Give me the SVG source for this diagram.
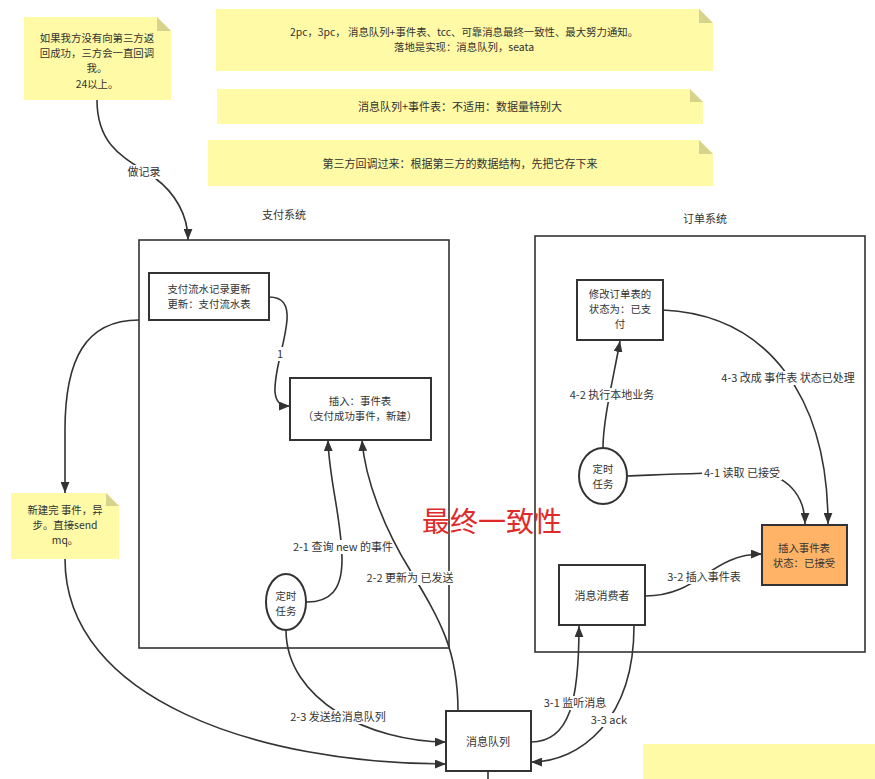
<svg xmlns="http://www.w3.org/2000/svg" width="875" height="779" viewBox="0 0 875 779">
<defs>
<marker id="arr" viewBox="0 0 10 8" refX="10" refY="4" markerWidth="11" markerHeight="9" markerUnits="userSpaceOnUse" orient="auto">
<path d="M0,0 L10,4 L0,8 Z" fill="#333"/>
</marker>
</defs>
<style>
text{font-family:"Noto Sans CJK SC","Liberation Sans",sans-serif;font-size:11px;fill:#333;text-anchor:middle}
.m{font-size:10.4px}
.note{fill:#FFFAA5}
.fold{fill:#D6D38C}
.box{fill:#fff;stroke:#333;stroke-width:2}
.frame{fill:none;stroke:#333;stroke-width:1.6}
.c{fill:none;stroke:#333;stroke-width:1.6}
.c2{fill:none;stroke:#333;stroke-width:1.6;marker-end:url(#arr)}
.lb{fill:#fff}
.red{fill:#E02A2A;font-size:28px}
</style>
<rect width="875" height="779" fill="#fff"/>

<g id="note-callback">
<path class="note" d="M24,17 H157 L171,31 V100 H24 Z"/>
<path class="fold" d="M157,17 L171,31 H157 Z"/>
<text class="m" x="97" y="42">如果我方没有向第三方返</text>
<text class="m" x="97" y="57.2">回成功，三方会一直回调</text>
<text class="m" x="97" y="72.4">我。</text>
<text class="m" x="97" y="87.6">24以上。</text>
</g>
<g id="note-methods">
<path class="note" d="M216,9 H699 L713,23 V71 H216 Z"/>
<path class="fold" d="M699,9 L713,23 H699 Z"/>
<text class="m" x="464" y="36">2pc，3pc， 消息队列+事件表、tcc、可靠消息最终一致性、最大努力通知。</text>
<text class="m" x="464" y="51.2">落地是实现：消息队列，seata</text>
</g>
<g id="note-mq">
<path class="note" d="M217,89 H690 L703,102 V124 H217 Z"/>
<path class="fold" d="M690,89 L703,102 H690 Z"/>
<text x="460" y="111">消息队列+事件表：不适用：数据量特别大</text>
</g>
<g id="note-third">
<path class="note" d="M208,140 H699 L713,154 V186 H208 Z"/>
<path class="fold" d="M699,140 L713,154 H699 Z"/>
<text x="460" y="168">第三方回调过来：根据第三方的数据结构，先把它存下来</text>
</g>

<g id="pay-system">
<text x="284" y="219">支付系统</text>
<rect class="frame" x="139" y="240" width="310" height="408"/>
</g>
<g id="order-system">
<text x="705" y="223">订单系统</text>
<rect class="frame" x="535" y="236" width="330" height="416"/>
</g>

<g id="connectors">
<path class="c2" d="M97,100 C97,150 130,160 155,178 C175,193 188,215 188,240"/>
<rect class="lb" x="126" y="165" width="36" height="14"/>
<text x="144" y="176">做记录</text>

<path class="c2" d="M269,297 C283,297 288,305 287,320 C285,345 274,370 275,392 C276,402 280,406 290,406"/>
<rect class="lb" x="275" y="347" width="10" height="14"/>
<text x="280" y="358">1</text>

<path class="c2" d="M139,320 C85,320 65,360 65,430 L65,493"/>

<path class="c2" d="M65,559 C65,700 260,764 446,764"/>

<path class="c2" d="M307,602 C330,602 342,590 342,560 C342,520 329,480 328,440"/>
<rect class="lb" x="288" y="540" width="110" height="14"/>
<text x="343" y="551">2-1 查询 new 的事件</text>

<path class="c2" d="M458,711 C458,650 440,620 410,570 C385,530 365,480 362,440"/>
<rect class="lb" x="364" y="571" width="92" height="14"/>
<text x="410" y="582">2-2 更新为 已发送</text>

<path class="c2" d="M286,630 C286,700 370,742 446,742"/>
<rect class="lb" x="288" y="710" width="100" height="14"/>
<text x="338" y="721">2-3 发送给消息队列</text>

<path class="c2" d="M603,448 C603,420 613,380 620,341"/>
<rect class="lb" x="566" y="388" width="92" height="14"/>
<text x="612" y="399">4-2 执行本地业务</text>

<path class="c2" d="M627,476 C680,474 720,472 762,473 C792,478 805,500 805,524"/>
<rect class="lb" x="702" y="466" width="80" height="14"/>
<text x="742" y="477">4-1 读取 已接受</text>

<path class="c2" d="M663,310 C770,315 828,400 828,524"/>
<rect class="lb" x="718" y="371" width="140" height="14"/>
<text x="788" y="382">4-3 改成 事件表 状态已处理</text>

<path class="c2" d="M645,596 C700,596 710,554 762,554"/>
<rect class="lb" x="665" y="570" width="78" height="14"/>
<text x="704" y="581">3-2 插入事件表</text>

<path class="c2" d="M531,742 C570,742 579,700 579,626"/>
<rect class="lb" x="542" y="696" width="67" height="14"/>
<text x="575" y="707">3-1 监听消息</text>

<path class="c2" d="M634,626 C634,720 580,762 531,762"/>
<rect class="lb" x="589" y="713" width="40" height="14"/>
<text x="609" y="724">3-3 ack</text>

<path class="c" d="M488,771 V779"/>
</g>

<g id="note-send">
<path class="note" d="M11,493 H106 L119,506 V559 H11 Z"/>
<path class="fold" d="M106,493 L119,506 H106 Z"/>
<text class="m" x="65" y="514">新建完 事件，异</text>
<text class="m" x="65" y="529.2">步。直接send</text>
<text class="m" x="65" y="544.4">mq。</text>
</g>

<g id="flow-update">
<rect class="box" x="149" y="273" width="120" height="47"/>
<text class="m" x="209" y="293">支付流水记录更新</text>
<text class="m" x="209" y="308.2">更新：支付流水表</text>
</g>
<g id="event-table">
<rect class="box" x="290" y="378" width="141" height="62"/>
<text class="m" x="360" y="405">插入：事件表</text>
<text class="m" x="360" y="420.2">（支付成功事件，新建）</text>
</g>
<g id="pay-timer">
<ellipse cx="286" cy="602" rx="20" ry="28" fill="#fff" stroke="#333" stroke-width="2"/>
<text class="m" x="286" y="600">定时</text>
<text class="m" x="286" y="615.2">任务</text>
</g>
<g id="mq">
<rect class="box" x="446" y="711" width="85" height="60"/>
<text x="488" y="746">消息队列</text>
</g>
<g id="order-update">
<rect class="box" x="577" y="280" width="86" height="60"/>
<text class="m" x="620" y="298">修改订单表的</text>
<text class="m" x="620" y="313.2">状态为：已支</text>
<text class="m" x="620" y="328.4">付</text>
</g>
<g id="order-timer">
<ellipse cx="603" cy="476" rx="24" ry="28" fill="#fff" stroke="#333" stroke-width="2"/>
<text class="m" x="603" y="473">定时</text>
<text class="m" x="603" y="488.2">任务</text>
</g>
<g id="order-event">
<rect x="762" y="525" width="85" height="60" fill="#FFB366" stroke="#333" stroke-width="2"/>
<text class="m" x="804" y="552">插入事件表</text>
<text class="m" x="804" y="567.2">状态：已接受</text>
</g>
<g id="consumer">
<rect class="box" x="559" y="565" width="86" height="60"/>
<text x="602" y="600">消息消费者</text>
</g>
<g id="title">
<text class="red" x="492" y="532">最终一致性</text>
</g>
<g id="note-bottom">
<rect class="note" x="643" y="744" width="240" height="40"/>
</g>
</svg>
